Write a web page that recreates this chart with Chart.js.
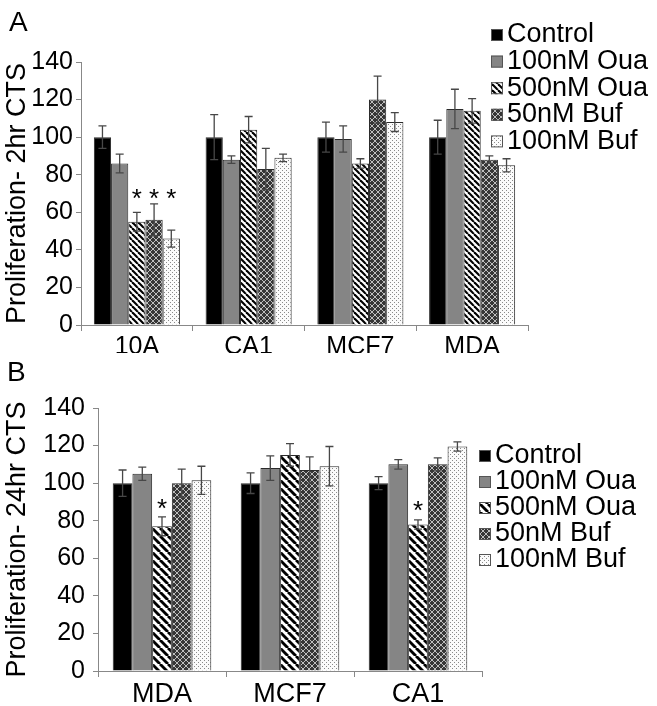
<!DOCTYPE html>
<html>
<head>
<meta charset="utf-8">
<script src="https://cdn.jsdelivr.net/npm/chart.js@4/dist/chart.umd.min.js"></script>
<style>
  body { margin: 0; background: #fff; }
  #wrap { position: relative; width: 657px; height: 706px; }
  #wrap canvas { position: absolute; left: 0; top: 0; }
</style>
</head>
<body>
<div id="wrap">
  <canvas id="chartA" width="657" height="706"></canvas>
  <canvas id="chartB" width="657" height="706"></canvas>
</div>
<script>
const seriesNames = ['Control', '100nM Oua', '500nM Oua', '50nM Buf', '100nM Buf'];
const yTicks = [0, 20, 40, 60, 80, 100, 120, 140];

// panel A - 2hr
const catsA = ['10A', 'CA1', 'MCF7', 'MDA'];
const controlA = [100, 100, 100, 100];
const oua100A = [86, 88, 99, 115];
const oua500A = [55, 104, 86, 114];
const buf50A = [56, 83, 120, 88];
const buf100A = [46, 89, 108, 85];
const controlErrA = [6, 12, 8, 9];
const oua100ErrA = [5, 2, 7, 10.5];
const oua500ErrA = [5, 7, 2.5, 6.5];
const buf50ErrA = [8.5, 11, 12.5, 2];
const buf100ErrA = [4.5, 2, 5, 3.5];
// [series, category, y value]
const starsA = [[2, 0, 69], [3, 0, 69], [4, 0, 69]];

// panel B - 24hr
const catsB = ['MDA', 'MCF7', 'CA1'];
const controlB = [100, 100, 100];
const oua100B = [105, 108, 110];
const oua500B = [77, 115, 78];
const buf50B = [100, 107, 110];
const buf100B = [101.5, 109, 119.5];
const controlErrB = [7, 5.5, 3.5];
const oua100ErrB = [3.5, 6.5, 2.5];
const oua500ErrB = [5, 6, 2.5];
const buf50ErrB = [7.5, 7, 3.5];
const buf100ErrB = [7.5, 10.5, 2.5];
const starsB = [[2, 0, 88], [2, 2, 87]];

Chart.defaults.font.family = '"Liberation Sans", Arial, sans-serif';
Chart.defaults.color = '#000';

function makeTile(w, h, draw) {
  const c = document.createElement('canvas');
  c.width = w; c.height = h;
  const g = c.getContext('2d');
  draw(g, w, h);
  return g.createPattern(c, 'repeat');
}

function stripes(size) {
  return makeTile(size, size, (g, s) => {
    g.fillStyle = '#fff';
    g.fillRect(0, 0, s, s);
    g.strokeStyle = '#000';
    g.lineWidth = s * 0.36;
    [-s, 0, s].forEach(o => {
      g.beginPath();
      g.moveTo(o, 0);
      g.lineTo(o + s, s);
      g.stroke();
    });
  });
}

function crosshatch(size) {
  return makeTile(size, size, (g, s) => {
    g.fillStyle = '#363636';
    g.fillRect(0, 0, s, s);
    g.strokeStyle = '#bdbdbd';
    g.lineWidth = 1;
    [-s, 0, s].forEach(o => {
      g.beginPath(); g.moveTo(o, 0); g.lineTo(o + s, s); g.stroke();
      g.beginPath(); g.moveTo(o + s, 0); g.lineTo(o, s); g.stroke();
    });
  });
}

function dots() {
  return makeTile(4, 4, (g) => {
    g.fillStyle = '#fbfbfb';
    g.fillRect(0, 0, 4, 4);
    g.fillStyle = '#8a8a8a';
    g.fillRect(0, 0, 1, 1);
    g.fillRect(2, 2, 1, 1);
  });
}

function fills(stripeSize) {
  return ['#000', '#858585', stripes(stripeSize), crosshatch(6), dots()];
}

// error bars, stars, legend and panel letter
const extras = {
  id: 'extras',
  afterDatasetsDraw(chart, args, opts) {
    const ctx = chart.ctx;
    const y = chart.scales.y;
    ctx.save();
    ctx.strokeStyle = '#474747';
    ctx.lineWidth = 1.3;
    chart.data.datasets.forEach((ds, i) => {
      chart.getDatasetMeta(i).data.forEach((bar, j) => {
        const v = ds.data[j], e = opts.errors[i][j];
        const top = y.getPixelForValue(v + e), bot = y.getPixelForValue(v - e);
        const cw = opts.capWidth / 2;
        ctx.beginPath();
        ctx.moveTo(bar.x, top); ctx.lineTo(bar.x, bot);
        ctx.moveTo(bar.x - cw, top); ctx.lineTo(bar.x + cw, top);
        ctx.moveTo(bar.x - cw, bot); ctx.lineTo(bar.x + cw, bot);
        ctx.stroke();
      });
    });

    ctx.fillStyle = '#000';
    ctx.textAlign = 'center';
    ctx.textBaseline = 'middle';
    ctx.font = '26px "Liberation Sans", Arial, sans-serif';
    opts.stars.forEach(([i, j, v]) => {
      const bar = chart.getDatasetMeta(i).data[j];
      ctx.fillText('*', bar.x, y.getPixelForValue(v) + 4);
    });

    // legend
    const lg = opts.legend;
    ctx.font = '27px "Liberation Sans", Arial, sans-serif';
    ctx.textAlign = 'left';
    chart.data.datasets.forEach((ds, i) => {
      const cy = lg.y + i * lg.step;
      ctx.fillStyle = ds.backgroundColor;
      ctx.fillRect(lg.x, cy - 6, 12, 12);
      ctx.strokeStyle = '#555';
      ctx.lineWidth = 1;
      ctx.strokeRect(lg.x + 0.5, cy - 5.5, 11, 11);
      ctx.fillStyle = '#000';
      ctx.fillText(ds.label, lg.x + 16, cy);
    });

    ctx.font = '28px "Liberation Sans", Arial, sans-serif';
    ctx.fillText(opts.letter.text, opts.letter.x, opts.letter.y);
    ctx.restore();
  }
};

function buildChart(id, cats, values, errors, stars, cfg) {
  const f = fills(cfg.stripe);
  return new Chart(document.getElementById(id), {
    type: 'bar',
    data: {
      labels: cats,
      datasets: values.map((vals, i) => ({
        label: seriesNames[i],
        data: vals,
        backgroundColor: f[i],
        borderColor: '#2a2a2a',
        borderWidth: 1,
        categoryPercentage: 0.77,
        barPercentage: 1.0
      }))
    },
    options: {
      responsive: false,
      animation: false,
      layout: { padding: cfg.padding },
      plugins: {
        legend: { display: false },
        tooltip: { enabled: false },
        extras: {
          errors: errors,
          stars: stars,
          capWidth: 8,
          legend: cfg.legend,
          letter: cfg.letter
        }
      },
      scales: {
        x: {
          grid: { drawOnChartArea: false, tickLength: 6, color: '#888', offset: true },
          border: { color: '#888' },
          ticks: { font: { size: cfg.catFont }, padding: 1, maxRotation: 0 },
          afterFit: s => { s.height = cfg.xHeight; }
        },
        y: {
          min: 0,
          max: 140,
          afterBuildTicks: s => { s.ticks = yTicks.map(v => ({ value: v })); },
          ticks: { font: { size: 25 }, padding: cfg.tickPad },
          grid: { drawOnChartArea: false, tickLength: 5, color: '#888' },
          border: { color: '#888' },
          title: {
            display: true,
            text: cfg.yTitle,
            font: { size: 27 },
            padding: { top: 1, bottom: 0 }
          },
          afterFit: s => { s.width = cfg.yWidth; }
        }
      }
    },
    plugins: [extras]
  });
}

buildChart('chartA', catsA,
  [controlA, oua100A, oua500A, buf50A, buf100A],
  [controlErrA, oua100ErrA, oua500ErrA, buf50ErrA, buf100ErrA],
  starsA, {
    stripe: 6,
    padding: { left: 0, top: 62, right: 129, bottom: 353 },
    xHeight: 28,
    yWidth: 81,
    tickPad: 3,
    catFont: 25,
    yTitle: 'Proliferation- 2hr CTS',
    legend: { x: 491, y: 35, step: 26.6 },
    letter: { text: 'A', x: 9, y: 23 }
  });

buildChart('chartB', catsB,
  [controlB, oua100B, oua500B, buf50B, buf100B],
  [controlErrB, oua100ErrB, oua500ErrB, buf50ErrB, buf100ErrB],
  starsB, {
    stripe: 8,
    padding: { left: 0, top: 408, right: 175, bottom: 0 },
    xHeight: 35,
    yWidth: 98,
    tickPad: 8,
    catFont: 27,
    yTitle: 'Proliferation- 24hr CTS',
    legend: { x: 479, y: 456, step: 26 },
    letter: { text: 'B', x: 7, y: 373 }
  });
</script>
</body>
</html>
